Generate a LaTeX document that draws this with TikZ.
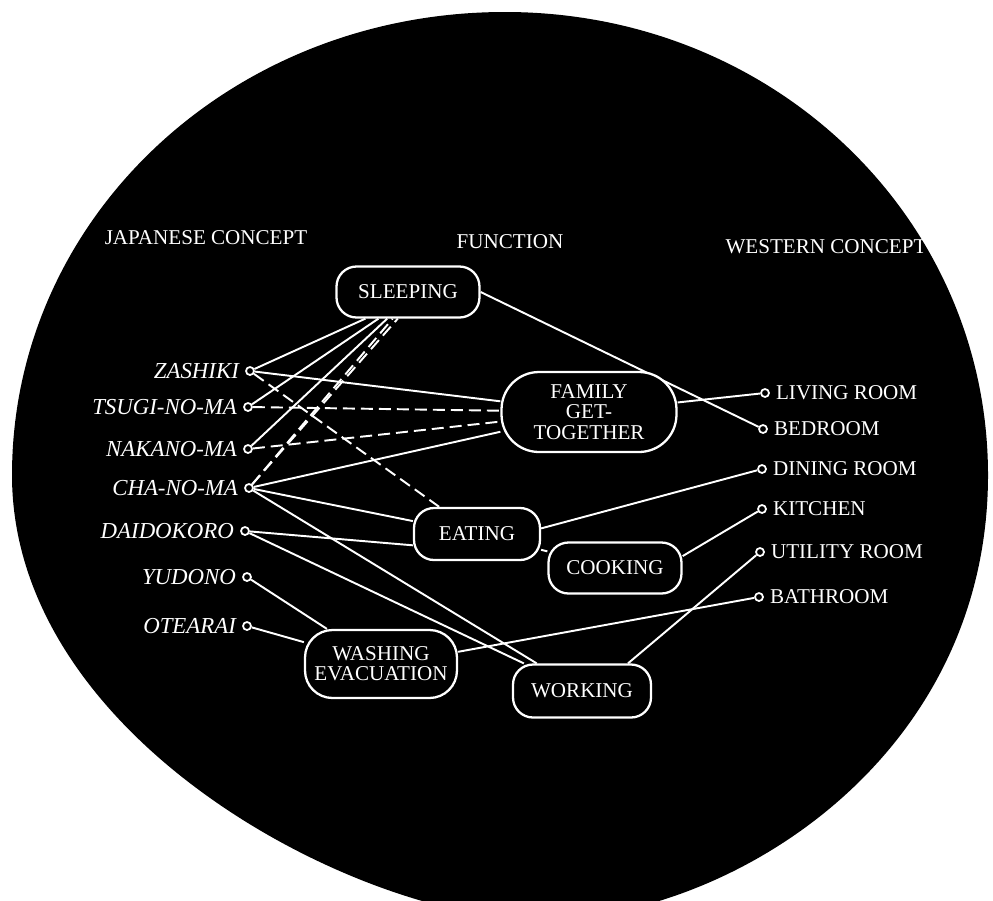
\documentclass[tikz,border=0pt]{standalone}
\usepackage{fontspec}
\setmainfont{Liberation Serif}
\pgfdeclarelayer{bg}
\pgfsetlayers{bg,main}

\begin{document}
\begin{tikzpicture}[x=0.02cm,y=-0.02cm,
  fn/.style={draw=white,line width=1.3pt,fill=black,text=white,rectangle,rounded corners=0.4cm,align=center,inner sep=0pt,font=\fontsize{12}{11.5}\selectfont},
  dot/.style={draw=white,line width=1pt,fill=black,circle,inner sep=0pt,minimum size=0.16cm},
  jp/.style={text=white,font=\fontsize{13}{15}\selectfont\itshape},
  we/.style={text=white,font=\fontsize{12}{14}\selectfont},
  head/.style={text=white,font=\fontsize{12}{14}\selectfont},
  link/.style={white,line width=1.1pt},
  dlink/.style={white,line width=1.1pt,dash pattern=on 0.24cm off 0.12cm}]

\useasboundingbox (0,0) rectangle (993,900);

\node[head] (h0) at (206,238) {JAPANESE CONCEPT};
\node[head] (h1) at (510,242) {FUNCTION};
\node[head] (h2) at (826,247) {WESTERN CONCEPT};

\node[fn,minimum width=2.86cm,minimum height=1.02cm] (0) at (408,292) {SLEEPING};
\node[fn,minimum width=3.5cm,minimum height=1.6cm,rounded corners=0.75cm] (1) at (589,412) {FAMILY\\GET-\\TOGETHER};
\node[fn,minimum width=2.52cm,minimum height=1.04cm] (2) at (477,534) {EATING};
\node[fn,minimum width=2.66cm,minimum height=1.02cm] (3) at (615,568) {COOKING};
\node[fn,minimum width=3.04cm,minimum height=1.36cm,rounded corners=0.55cm] (4) at (381,664) {WASHING\\EVACUATION};
\node[fn,minimum width=2.76cm,minimum height=1.06cm] (5) at (582,691) {WORKING};

\node[dot,label={[jp]left:ZASHIKI}] (10) at (250,371) {};
\node[dot,label={[jp]left:TSUGI-NO-MA}] (11) at (248,407) {};
\node[dot,label={[jp]left:NAKANO-MA}] (12) at (248,449) {};
\node[dot,label={[jp]left:CHA-NO-MA}] (13) at (249,488) {};
\node[dot,label={[jp]left:DAIDOKORO}] (14) at (245,531) {};
\node[dot,label={[jp]left:YUDONO}] (15) at (247,577) {};
\node[dot,label={[jp]left:OTEARAI}] (16) at (247,626) {};

\node[dot,label={[we]right:LIVING ROOM}] (20) at (765,393) {};
\node[dot,label={[we]right:BEDROOM}] (21) at (763,429) {};
\node[dot,label={[we]right:DINING ROOM}] (22) at (762,469) {};
\node[dot,label={[we]right:KITCHEN}] (23) at (762,509) {};
\node[dot,label={[we]right:UTILITY ROOM}] (24) at (760,552) {};
\node[dot,label={[we]right:BATHROOM}] (25) at (759,597) {};

\begin{pgfonlayer}{bg}
\fill[white] (0,0) rectangle (993,900);
\clip (0,0) rectangle (993,900);
\fill[black] (12,475) .. controls (12,219) and (230,12) .. (505,12)
  .. controls (775,12) and (988,219) .. (988,475)
  .. controls (988,760) and (728,920) .. (540,920)
  .. controls (360,920) and (12,740) .. (12,475) -- cycle;

\draw[link] (10)--(0.212);
\draw[link] (11)--(0.222);
\draw[link] (12)--(0.232);
\draw[dlink] (13)--(0.240);
\draw[dlink] (13)--(0.249);
\draw[link] (0.east)--(21);

\draw[link] (10)--(1);
\draw[dlink] (11)--(1);
\draw[dlink] (12)--(1);
\draw[link] (13)--(1);
\draw[link] (1)--(20);

\draw[dlink] (10)--(2);
\draw[link] (13)--(2);
\draw[link] (14)--(2.190);
\draw[link] (2.5)--(22);
\draw[link] (2)--(3);
\draw[link] (3.10)--(23);

\draw[link] (13)--(5);
\draw[link] (14)--(5);
\draw[link] (5.31)--(24);

\draw[link] (15)--(4);
\draw[link] (16)--(4);
\draw[link] (4.9)--(25);
\end{pgfonlayer}

\end{tikzpicture}
\end{document}
